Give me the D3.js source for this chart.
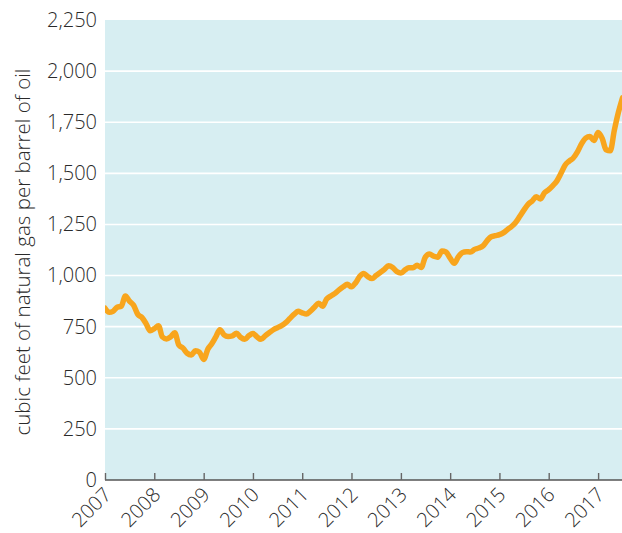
<!DOCTYPE html>
<html>
<head>
<meta charset="utf-8">
<script src="https://cdn.jsdelivr.net/npm/d3@7"></script>
<style>
  html, body { margin: 0; padding: 0; background: #fff; }
  svg { display: block; }
  text { font-family: "Open Sans", "Noto Sans", sans-serif; font-weight: 300; fill: #2a2a2a; }
</style>
</head>
<body>
<svg id="chart" width="622" height="533"></svg>
<script>
// Monthly ratio, starting January 2007
const startYear = 2007;
const values = [
  840, 820, 825, 845, 850, 900, 875, 855, 810, 795, 765, 730,
  740, 755, 700, 690, 700, 720, 660, 645, 620, 612, 632, 625,
  590, 640, 665, 700, 735, 710, 702, 705, 718, 698, 688, 705,
  716, 700, 688, 705, 720, 735, 745, 755, 770, 790, 810, 825,
  818, 812, 825, 845, 865, 850, 885, 900, 913, 930, 945, 957,
  945, 965, 995, 1010, 995, 985, 1000, 1015, 1030, 1048, 1040, 1020,
  1012, 1028, 1038, 1038, 1050, 1040, 1090, 1105, 1095, 1090, 1120, 1115,
  1085, 1060, 1090, 1112, 1117, 1115, 1128, 1135, 1145, 1170, 1190, 1195,
  1200, 1210, 1225, 1240, 1260, 1290, 1320, 1348, 1365, 1385, 1375, 1405,
  1420, 1440, 1462, 1500, 1540, 1560, 1575, 1605, 1645, 1672, 1680, 1660,
  1700, 1670, 1615, 1610, 1710, 1800, 1870
];
const yTicks = [0, 250, 500, 750, 1000, 1250, 1500, 1750, 2000, 2250];
const xTickYears = [2007, 2008, 2009, 2010, 2011, 2012, 2013, 2014, 2015, 2016, 2017];
const yLabel = "cubic feet of natural gas per barrel of oil";

(function () {
const data = values.map((v, i) => ({ date: new Date(startYear, i, 1), value: v }));

const svg = d3.select("#chart");
const mLeft = 105, mRight = 622, mTop = 20, mBottom = 480;
const fontFam = '"Open Sans", "Noto Sans", sans-serif';

const x = d3.scaleTime()
  .domain([new Date(2007, 0, 1), new Date(2017, 5, 27)])
  .range([mLeft, mRight]);
const y = d3.scaleLinear().domain([0, 2250]).range([mBottom, mTop]);

svg.append("defs").append("clipPath").attr("id", "clip")
  .append("rect").attr("x", mLeft).attr("y", mTop - 10).attr("width", mRight - mLeft).attr("height", mBottom - mTop + 10);

// background
svg.append("rect").attr("x", mLeft).attr("y", mTop).attr("width", mRight - mLeft).attr("height", mBottom - mTop)
  .attr("fill", "#d7eef2");

// gridlines
svg.append("g").selectAll("line").data(yTicks.filter(d => d > 0 && d < 2250)).join("line")
  .attr("x1", mLeft).attr("x2", mRight)
  .attr("y1", d => y(d)).attr("y2", d => y(d))
  .attr("stroke", "#fff").attr("stroke-width", 1.6);

// y axis labels
const yAxis = d3.axisLeft(y).tickValues(yTicks).tickSize(0).tickPadding(8).tickFormat(d3.format(","));
const gy = svg.append("g").attr("transform", `translate(${mLeft},0)`).call(yAxis);
gy.select(".domain").remove();
gy.selectAll("text").attr("font-size", 20).attr("fill", "#2a2a2a")
  .style("font-family", fontFam).style("font-weight", 300);

// x axis
const xAxis = d3.axisBottom(x).tickValues(xTickYears.map(yr => new Date(yr, 0, 1)))
  .tickSize(-7).tickFormat(d3.timeFormat("%Y"));
const gx = svg.append("g").attr("transform", `translate(0,${mBottom})`).call(xAxis);
gx.select(".domain").attr("stroke", "#555").attr("stroke-width", 1.6).attr("d", `M${mLeft},0H${mRight}`);
gx.selectAll(".tick line").attr("stroke", "#666").attr("stroke-width", 1.4);
gx.selectAll("text")
  .attr("font-size", 20).attr("fill", "#2a2a2a")
  .style("font-family", fontFam).style("font-weight", 300)
  .attr("text-anchor", "end")
  .attr("dy", null).attr("y", 0)
  .attr("transform", "translate(7,16) rotate(-45)");

// line
const line = d3.line().x(d => x(d.date)).y(d => y(d.value)).curve(d3.curveMonotoneX);
svg.append("path").datum(data)
  .attr("clip-path", "url(#clip)")
  .attr("d", line)
  .attr("fill", "none").attr("stroke", "#f8a51d").attr("stroke-width", 5.5)
  .attr("stroke-linejoin", "round").attr("stroke-linecap", "round");

// y label
svg.append("text")
  .attr("transform", `translate(30,252) rotate(-90)`)
  .attr("text-anchor", "middle").attr("font-size", 20.5)
  .text(yLabel);
})();
</script>
</body>
</html>
